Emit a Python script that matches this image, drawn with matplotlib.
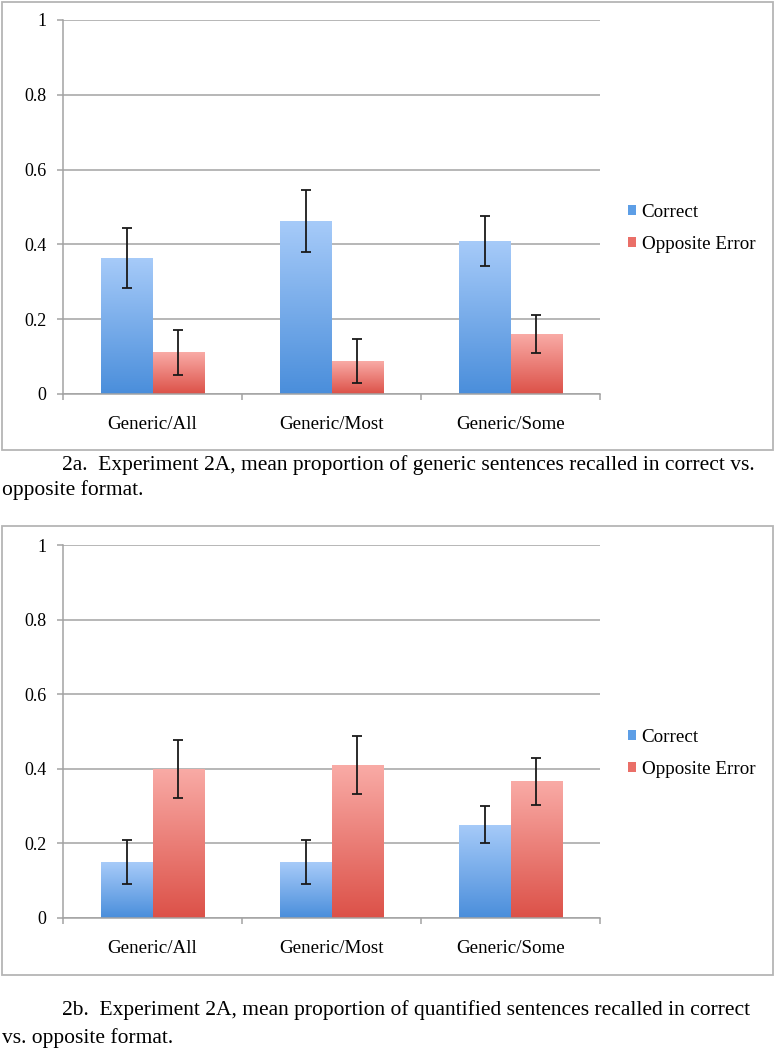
import numpy as np
import matplotlib
matplotlib.use("Agg")
import matplotlib.pyplot as plt
from matplotlib.colors import LinearSegmentedColormap
from matplotlib.patches import Patch, Rectangle

categories = ["Generic/All", "Generic/Most", "Generic/Some"]
series_names = ["Correct", "Opposite Error"]

# panel 2a: generic sentences
a_correct = [0.364, 0.463, 0.410]
a_correct_err = [0.080, 0.082, 0.067]
a_opposite = [0.112, 0.088, 0.160]
a_opposite_err = [0.060, 0.059, 0.050]

# panel 2b: quantified sentences
b_correct = [0.150, 0.150, 0.250]
b_correct_err = [0.060, 0.060, 0.049]
b_opposite = [0.400, 0.410, 0.366]
b_opposite_err = [0.078, 0.078, 0.064]

y_ticks = [0, 0.2, 0.4, 0.6, 0.8, 1]
y_tick_labels = ["0", "0.2", "0.4", "0.6", "0.8", "1"]

caption_a = ["2a.  Experiment 2A, mean proportion of generic sentences recalled in correct vs.",
             "opposite format."]
caption_b = ["2b.  Experiment 2A, mean proportion of quantified sentences recalled in correct",
             "vs. opposite format."]

blue_cmap = LinearSegmentedColormap.from_list("blue", ["#4a8edb", "#a7cbf9"])
red_cmap = LinearSegmentedColormap.from_list("red", ["#dc5148", "#f9aba6"])
solid = {"Correct": "#5d9ee6", "Opposite Error": "#ea6f68"}

chart_font = "Liberation Serif"
plt.rcParams["font.family"] = [chart_font, "DejaVu Serif"]

W, H = 775, 1050
fig = plt.figure(figsize=(W / 100, H / 100), dpi=100)


def px(x0, y0, x1, y1):
    # pixel box (top-left origin) -> figure fraction rect
    return [x0 / W, 1 - y1 / H, (x1 - x0) / W, (y1 - y0) / H]


bw = 0.285


def gradient_bars(ax, xs, vals, cmap, color):
    bars = ax.bar(xs, vals, width=bw, color=color, linewidth=0, zorder=2)
    grad = np.linspace(0, 1, 256).reshape(-1, 1)
    for b in bars:
        x0, y0 = b.get_x(), b.get_y()
        im = ax.imshow(grad, cmap=cmap, origin="lower", aspect="auto",
                       extent=[x0, x0 + b.get_width(), y0, y0 + b.get_height()],
                       zorder=2.5, interpolation="bilinear")
        im.set_clip_path(b)
    return bars


def draw_panel(box, correct, correct_err, opposite, opposite_err, legend_xy):
    ax = fig.add_axes(px(*box))
    x = np.arange(len(categories))
    gradient_bars(ax, x - bw / 2, correct, blue_cmap, solid["Correct"])
    gradient_bars(ax, x + bw / 2, opposite, red_cmap, solid["Opposite Error"])
    ax.errorbar(x - bw / 2, correct, yerr=correct_err, fmt="none", ecolor="#1a1a1a",
                elinewidth=1.3, capsize=3.5, capthick=1.3, zorder=4)
    ax.errorbar(x + bw / 2, opposite, yerr=opposite_err, fmt="none", ecolor="#1a1a1a",
                elinewidth=1.3, capsize=3.5, capthick=1.3, zorder=4)

    ax.set_xlim(-0.5, len(categories) - 0.5)
    ax.set_ylim(0, 1)
    ax.set_yticks(y_ticks)
    ax.set_yticklabels(y_tick_labels, fontsize=13)
    ax.yaxis.grid(True, color="#a3a3a3", linewidth=1.1, zorder=0)
    ax.set_axisbelow(True)
    ax.tick_params(axis="y", length=4, width=1.1, color="#a3a3a3", pad=8)

    ax.set_xticks(np.arange(len(categories) + 1) - 0.5)
    ax.set_xticklabels([])
    ax.set_xticks(x, minor=True)
    ax.set_xticklabels(categories, minor=True, fontsize=13.7)
    ax.tick_params(axis="x", which="major", length=4, width=1.1, color="#a3a3a3")
    ax.tick_params(axis="x", which="minor", length=0, pad=16)

    for s in ["top", "right"]:
        ax.spines[s].set_visible(False)
    for s in ["left", "bottom"]:
        ax.spines[s].set_color("#a3a3a3")
        ax.spines[s].set_linewidth(1.1)

    handles = [Patch(facecolor=solid[n], edgecolor="none") for n in series_names]
    fig.legend(handles, series_names, loc="upper left",
               bbox_to_anchor=(legend_xy[0] / W, 1 - legend_xy[1] / H),
               frameon=False, fontsize=13.7, handlelength=0.42, handleheight=0.42,
               handletextpad=0.3, labelspacing=0.78, borderpad=0, borderaxespad=0)
    return ax


draw_panel((63, 20, 600, 394), a_correct, a_correct_err, a_opposite, a_opposite_err, (628, 204))
draw_panel((63, 545, 600, 918), b_correct, b_correct_err, b_opposite, b_opposite_err, (628, 729))

# panel frames
for (x0, y0, x1, y1) in [(2, 2, 773, 450), (2, 526, 773, 975)]:
    fig.patches.append(Rectangle((x0 / W, 1 - y1 / H), (x1 - x0) / W, (y1 - y0) / H,
                                 transform=fig.transFigure, fill=False,
                                 edgecolor="#b5b5b5", linewidth=1.3))

# captions (first line indented)
for lines, ys in [(caption_a, (465, 490)), (caption_b, (1010, 1038))]:
    for line, y, x in zip(lines, ys, (62, 2)):
        fig.text(x / W, 1 - y / H, line, fontsize=15.5, va="center", ha="left",
                 family="Liberation Serif")

fig.savefig("out.png", dpi=100)
